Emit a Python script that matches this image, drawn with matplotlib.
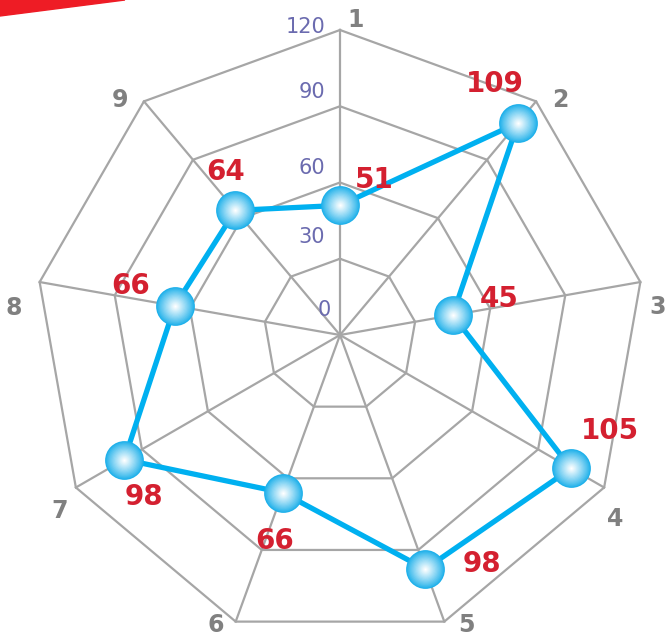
import numpy as np
import matplotlib.pyplot as plt
from matplotlib.patches import Polygon
from matplotlib.colors import to_rgb

# data
categories = ['1', '2', '3', '4', '5', '6', '7', '8', '9']
values = [51, 109, 45, 105, 98, 66, 98, 66, 64]
ring_ticks = [0, 30, 60, 90, 120]
r_max = 120

# label offsets in pixels (x, y-up)
value_offsets = [(34, 25), (-23, 39), (47, 16), (39, 37), (57, 5),
                 (-8, -48), (20, -37), (-44, 20), (-10, 38)]
cat_offsets = [(16, 10), (24, 1), (17, -25), (11, -31), (22, -3),
               (-20, -3), (-16, -23), (-26, -26), (-24, 1)]
ring_label_dy = [25, 22, 15, 14, 3]

grid_col = '#a6a6a6'
line_col = '#00b0f0'
red = '#d42030'

fig = plt.figure(figsize=(6.68, 6.40), dpi=100)
ax = fig.add_axes([35 / 668, 0.0, 610 / 668, 610 / 640], projection='polar')
ax.set_theta_zero_location('N')
ax.set_theta_direction(-1)
ax.set_ylim(0, r_max)
ax.grid(False)
ax.spines['polar'].set_visible(False)
ax.set_xticks([])
ax.set_yticks([])
ax.patch.set_alpha(0)

n = len(categories)
theta = np.arange(n) * 2 * np.pi / n
theta_c = np.append(theta, theta[0])

# polygon grid
for r in ring_ticks[1:]:
    ax.plot(theta_c, [r] * (n + 1), color=grid_col, lw=1.6, zorder=1, clip_on=False)
for t in theta:
    ax.plot([t, t], [0, r_max], color=grid_col, lw=1.6, zorder=1, clip_on=False)

# ring labels
for r, dy in zip(ring_ticks, ring_label_dy):
    ax.annotate(str(r), xy=(0, r), xytext=(-16 if r == 0 else -15, dy),
                textcoords='offset pixels', ha='right' if r else 'center',
                va='center', fontsize=15, color='#6b6baf',
                annotation_clip=False)

# category labels
for t, c, off in zip(theta, categories, cat_offsets):
    ax.annotate(c, xy=(t, r_max), xytext=off, textcoords='offset pixels',
                ha='center', va='center', fontsize=17, fontweight='bold',
                color='#808080', annotation_clip=False)

# series line
vals_c = values + [values[0]]
ax.plot(theta_c, vals_c, color=line_col, lw=3.8, zorder=3, clip_on=False)

# sphere-like markers
c0 = np.array(to_rgb('#1eb0ea'))
c1 = np.array(to_rgb('#ffffff'))
steps = 16
for i in range(steps):
    f = i / (steps - 1)
    size = 780 * (1 - 0.95 * f) ** 2
    col = c0 + (c1 - c0) * f ** 0.9
    ax.scatter(theta, values, s=size, color=col, zorder=4 + i * 0.01,
               linewidths=0, clip_on=False)

# value labels
for t, v, off in zip(theta, values, value_offsets):
    ax.annotate(str(v), xy=(t, v), xytext=off, textcoords='offset pixels',
                ha='center', va='center', fontsize=20, fontweight='bold',
                color=red, zorder=6, annotation_clip=False)

# red corner swoosh
fig.patches.append(Polygon([[0, 1], [125 / 668, 1], [0, 1 - 16 / 640]],
                           closed=True, transform=fig.transFigure,
                           color='#ee1c25', zorder=0))

fig.savefig('out.png', dpi=100)
